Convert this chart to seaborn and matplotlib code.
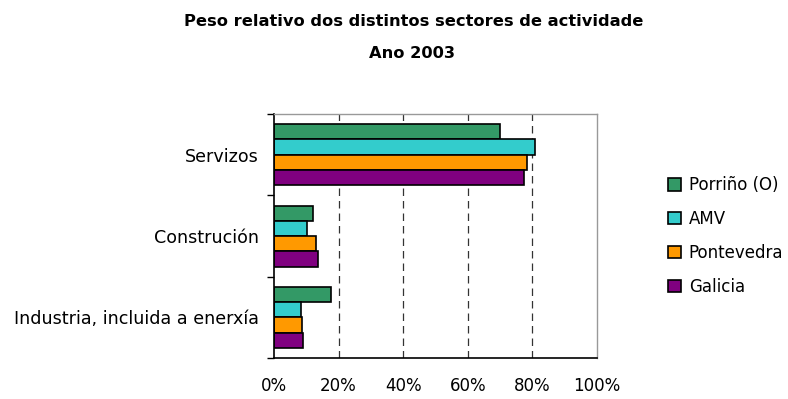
import matplotlib
matplotlib.use("Agg")
import matplotlib.pyplot as plt
import seaborn as sns
import pandas as pd
from matplotlib.patches import Patch
from matplotlib.ticker import FuncFormatter, FixedLocator

categories = ["Servizos", "Construción", "Industria, incluida a enerxía"]
series = ["Porriño (O)", "AMV", "Pontevedra", "Galicia"]
porrino = [70.0, 12.0, 17.5]
amv = [80.8, 10.1, 8.3]
pontevedra = [78.4, 13.0, 8.8]
galicia = [77.5, 13.5, 8.9]
colors = ["#339966", "#33CCCC", "#FF9900", "#800080"]
xticks = [0, 20, 40, 60, 80, 100]

rows = []
for s, vals in zip(series, [porrino, amv, pontevedra, galicia]):
    for c, v in zip(categories, vals):
        rows.append({"sector": c, "serie": s, "valor": v})
df = pd.DataFrame(rows)

sns.set_theme(style="white")
plt.rcParams["font.family"] = ["DejaVu Sans"]
plt.rcParams["text.color"] = "black"
plt.rcParams["xtick.color"] = "black"
plt.rcParams["ytick.color"] = "black"

fig = plt.figure(figsize=(7.88, 3.99), dpi=100)
ax = fig.add_axes([274/788, 1-358/399, (597-274)/788, (358-114)/399])

sns.barplot(data=df, y="sector", x="valor", hue="serie", order=categories,
            hue_order=series, palette=colors, orient="h", width=0.75,
            edgecolor="black", linewidth=1.2, saturation=1, ax=ax, legend=False)

ax.set_xlim(0, 100)
ax.set_ylim(2.5, -0.5)
ax.set_xticks(xticks)
ax.xaxis.set_major_formatter(FuncFormatter(lambda v, p: f"{int(v)}%"))
for x in xticks[1:-1]:
    ax.axvline(x, color="#333333", linestyle=(0, (6, 4)), linewidth=0.9, zorder=0)
ax.set_xlabel("")
ax.set_ylabel("")
ax.tick_params(axis="x", labelsize=12, pad=14, length=0, labelcolor="black")
ax.tick_params(axis="y", labelsize=12.6, pad=11, length=0, labelcolor="black")
ax.yaxis.set_minor_locator(FixedLocator([-0.5, 0.5, 1.5, 2.5]))
ax.tick_params(axis="y", which="minor", left=True, length=5, width=1, color="black")
for side in ["left", "bottom"]:
    ax.spines[side].set_color("black")
    ax.spines[side].set_linewidth(1.2)
for side in ["top", "right"]:
    ax.spines[side].set_color("#999999")
    ax.spines[side].set_linewidth(1.0)

handles = [Patch(facecolor=c, edgecolor="black", linewidth=1.2) for c in colors]
fig.legend(handles, series, loc="center left", bbox_to_anchor=(663/788, 1-236/399),
           frameon=False, fontsize=12, handlelength=0.75, handleheight=0.75,
           labelspacing=0.95, handletextpad=0.5, labelcolor="black",
           borderaxespad=0, borderpad=0.3)

fig.text(414/788, 1-21/399, "Peso relativo dos distintos sectores de actividade",
         ha="center", va="center", fontsize=11.7, fontweight="bold", color="black")
fig.text(412/788, 1-54/399, "Ano 2003", ha="center", va="center", fontsize=11.7,
         fontweight="bold", color="black")

fig.savefig("out.png", dpi=100)
